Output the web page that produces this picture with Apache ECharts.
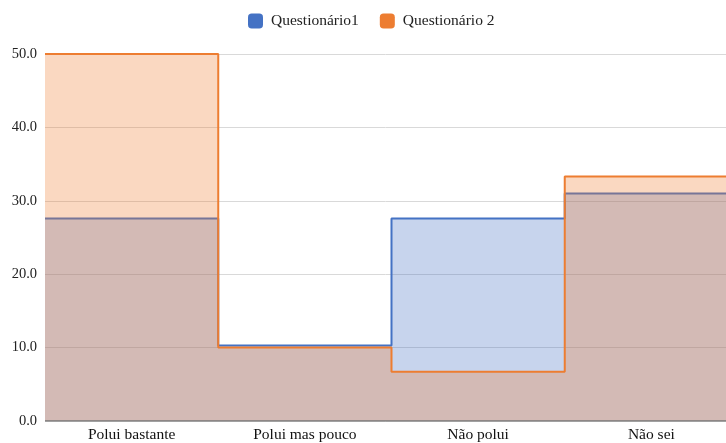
<!DOCTYPE html>
<html><head><meta charset="utf-8">
<script src="https://cdn.jsdelivr.net/npm/echarts@6/dist/echarts.min.js"></script>
<style>html,body{margin:0;padding:0;background:#fff}#c{width:726px;height:443px}</style>
</head><body><div id="c"></div>
<script>
const categories = ['Polui bastante', 'Polui mas pouco', 'Não polui', 'Não sei'];
const seriesNames = ['Questionário1', 'Questionário 2'];
const q1 = [27.6, 10.3, 27.6, 31.0];
const q2 = [50.0, 10.0, 6.7, 33.3];
const yTicks = [0, 10, 20, 30, 40, 50];

function steps(arr){
  const pts = arr.map((v,i)=>[i, v]);
  pts.push([arr.length, arr[arr.length-1]]);
  return pts;
}
const font = '"Liberation Serif", "DejaVu Serif", serif';
const chart = echarts.init(document.getElementById('c'));
chart.setOption({
  animation:false,
  textStyle:{fontFamily:font},
  legend:{top:8, left:243, itemWidth:15, itemHeight:15, itemGap:21, icon:'roundRect',
    textStyle:{fontFamily:font, fontSize:15.5, color:'#222', padding:[0,0,0,3]}, data:seriesNames},
  grid:{left:45, right:0, top:54, bottom:21},
  xAxis:{type:'value', min:0, max:categories.length*0.9827, interval:0.5,
      axisLine:{show:false}, axisTick:{show:false}, splitLine:{show:false},
      axisLabel:{fontFamily:font, fontSize:15.5, color:'#111', margin:6, showMaxLabel:false,
        formatter:v=>(Math.abs(v%1-0.5)<1e-6 ? categories[Math.floor(v)] : '')}},
  yAxis:{type:'value', min:yTicks[0], max:yTicks[yTicks.length-1], interval:10,
    axisLabel:{fontFamily:font, fontSize:14.5, color:'#222', margin:8, formatter:v=>v.toFixed(1)},
    splitLine:{lineStyle:{color:'#d9d9d9', width:1}},
    axisLine:{show:false}, axisTick:{show:false}},
  series:[
    {name:seriesNames[0], type:'line', step:'end', data:steps(q1), symbol:'none',
      color:'#4472c4', lineStyle:{width:2, color:'#4472c4'}, areaStyle:{color:'#4472c4', opacity:0.3}, z:2},
    {name:seriesNames[1], type:'line', step:'end', data:steps(q2), symbol:'none',
      color:'#ed7d31', lineStyle:{width:2, color:'#ed7d31'}, areaStyle:{color:'#ed7d31', opacity:0.3}, z:3},
    {type:'line', data:[[0,0],[categories.length,0]], symbol:'none', silent:true,
      lineStyle:{color:'#777', width:1.5}, z:5, legendHoverLink:false}
  ]
});
</script></body></html>
